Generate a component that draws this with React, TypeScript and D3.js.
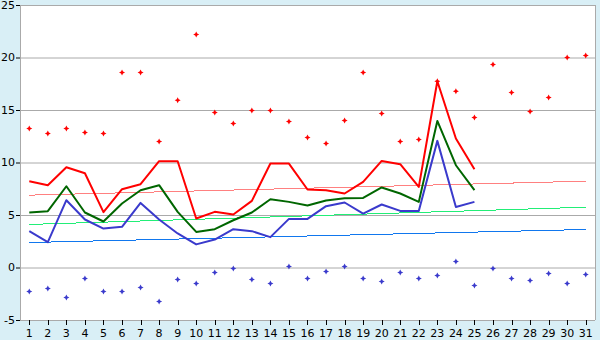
import { useMemo } from "react";
import * as d3 from "d3";

const days = d3.range(1, 32).map(String);

// daily high / low (scatter), all 31 days
const highs = [13.24, 12.76, 13.24, 12.86, 12.76, 18.57, 18.57, 12.0, 15.93, 22.19,
  14.76, 13.71, 14.95, 14.95, 13.9, 12.38, 11.81, 14.0, 18.57, 14.67,
  12.0, 12.19, 17.74, 16.79, 14.29, 19.33, 16.67, 14.86, 16.19, 20.0, 20.19];
const lows = [-2.29, -2.0, -2.86, -1.05, -2.29, -2.29, -1.9, -3.24, -1.14, -1.52,
  -0.48, -0.1, -1.14, -1.52, 0.1, -1.05, -0.38, 0.1, -1.05, -1.33,
  -0.48, -1.05, -0.76, 0.57, -1.71, -0.1, -1.05, -1.24, -0.57, -1.52, -0.67];

// lines only cover days 1..25
const redLine = [8.22, 7.84, 9.55, 8.98, 5.27, 7.46, 7.93, 10.12, 10.12, 4.67,
  5.3, 5.05, 6.34, 9.9, 9.9, 7.43, 7.36, 7.05, 8.15, 10.15,
  9.84, 7.68, 17.74, 12.28, 9.36];
const greenLine = [5.24, 5.36, 7.74, 5.24, 4.38, 6.1, 7.36, 7.84, 5.3, 3.39,
  3.65, 4.5, 5.24, 6.5, 6.25, 5.9, 6.38, 6.6, 6.63, 7.62,
  7.05, 6.25, 13.96, 9.74, 7.36];
const blueLine = [3.46, 2.41, 6.41, 4.57, 3.71, 3.87, 6.15, 4.57, 3.24, 2.2,
  2.66, 3.65, 3.46, 2.89, 4.63, 4.63, 5.84, 6.19, 5.14, 6.0,
  5.39, 5.39, 12.06, 5.77, 6.25];

// trend lines: value at day 1 and at day 31
const redTrend = [6.89, 8.22];
const greenTrend = [4.1, 5.74];
const blueTrend = [2.38, 3.62];

const yTicks = [-5, 0, 5, 10, 15, 20, 25];

const W = 600;
const H = 340;
const left = 20;
const right = 595;
const top = 5;
const bottom = 320;

const marker = "M0,-3L1,-1L3,0L1,1L0,3L-1,1L-3,0L-1,-1Z";

export default function App() {
  const x = useMemo(() => d3.scaleBand().domain(days).range([left, right]), []);
  const y = useMemo(() => d3.scaleLinear().domain([-5, 25]).range([bottom, top]), []);
  const cx = (i: number) => (x(days[i]) ?? 0) + x.bandwidth() / 2;

  const line = d3
    .line<number>()
    .x((_, i) => cx(i))
    .y((v) => y(v));

  const trend = (ends: number[]) => {
    const x0 = cx(0);
    const x1 = cx(days.length - 1);
    return `M${x0},${y(ends[0])}L${x1},${y(ends[1])}`;
  };

  const font = "'DejaVu Sans', Verdana, sans-serif";

  return (
    <svg
      width={W}
      height={H}
      style={{ position: "absolute", left: 0, top: 0, display: "block" }}
    >
      <rect x={0} y={0} width={W} height={H} fill="#d9eff6" />
      <rect x={left} y={top} width={right - left} height={bottom - top} fill="#fff" />

      {yTicks.map((t) => (
        <g key={t}>
          <line x1={left} x2={right} y1={y(t) + 0.5} y2={y(t) + 0.5} stroke="#aaa" />
          <line x1={left - 4} x2={left} y1={y(t) + 0.5} y2={y(t) + 0.5} stroke="#000" />
          <text
            x={left - 5}
            y={y(t)}
            dy="0.35em"
            textAnchor="end"
            fontFamily={font}
            fontSize={11}
            fill="#000"
          >
            {t}
          </text>
        </g>
      ))}
      <line x1={left + 0.5} x2={left + 0.5} y1={top} y2={bottom} stroke="#aaa" />
      <line x1={right + 0.5} x2={right + 0.5} y1={top} y2={bottom} stroke="#aaa" />

      {days.map((d, i) => (
        <g key={d}>
          <line
            x1={Math.round(cx(i)) + 0.5}
            x2={Math.round(cx(i)) + 0.5}
            y1={bottom}
            y2={bottom + 5}
            stroke="#000"
          />
          <text
            x={cx(i)}
            y={bottom + 17}
            textAnchor="middle"
            fontFamily={font}
            fontSize={11}
            fill="#000"
          >
            {d}
          </text>
        </g>
      ))}

      <g shapeRendering="crispEdges" fill="none" strokeWidth={1}>
        <path d={trend(redTrend)} stroke="#ff8080" />
        <path d={trend(greenTrend)} stroke="#22ee77" />
        <path d={trend(blueTrend)} stroke="#1177ee" />
      </g>

      <g fill="none" strokeWidth={2} strokeLinejoin="round">
        <path d={line(blueLine) ?? ""} stroke="#3a3acc" />
        <path d={line(greenLine) ?? ""} stroke="#006600" />
        <path d={line(redLine) ?? ""} stroke="#ff0000" />
      </g>

      {highs.map((v, i) => (
        <path key={`h${i}`} d={marker} transform={`translate(${cx(i)},${y(v)})`} fill="#ff0000" />
      ))}
      {lows.map((v, i) => (
        <path key={`l${i}`} d={marker} transform={`translate(${cx(i)},${y(v)})`} fill="#3a3acc" />
      ))}
    </svg>
  );
}
